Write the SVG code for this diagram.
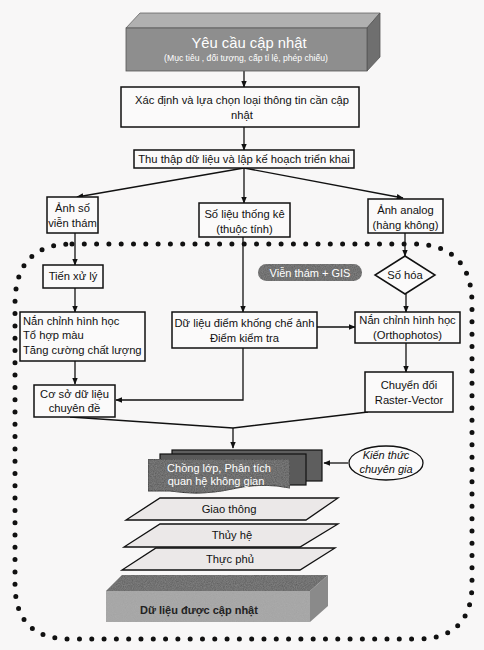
<svg xmlns="http://www.w3.org/2000/svg" width="484" height="650" viewBox="0 0 484 650">
<defs>
<marker id="ah" viewBox="0 0 10 10" refX="9" refY="5" markerWidth="7" markerHeight="7" orient="auto" markerUnits="userSpaceOnUse">
<path d="M0,1 L10,5 L0,9 Z" fill="#111"/>
</marker>
<filter id="grain" x="0" y="0" width="100%" height="100%">
<feTurbulence type="fractalNoise" baseFrequency="0.9" numOctaves="2" seed="3" result="n"/>
<feColorMatrix in="n" type="matrix" values="0 0 0 0 0.5  0 0 0 0 0.5  0 0 0 0 0.5  0 0 0 0.35 0" result="g"/>
<feComposite in="g" in2="SourceGraphic" operator="in" result="gi"/>
<feMerge><feMergeNode in="SourceGraphic"/><feMergeNode in="gi"/></feMerge>
</filter>
</defs>
<style>
text{font-family:"Liberation Sans",Arial,sans-serif;fill:#111;}
.t{font-size:11.2px;text-anchor:middle;}
.tl{font-size:11.2px;}
.box{fill:#fbfafa;stroke:#111;stroke-width:1.5;}
.ln{fill:none;stroke:#111;stroke-width:1.3;}
.arr{fill:none;stroke:#111;stroke-width:1.3;marker-end:url(#ah);}
.dots{fill:none;stroke:#111;stroke-width:5;stroke-linecap:round;stroke-dasharray:0 12.3;}
.para{fill:#ebe8e8;stroke:#111;stroke-width:1.3;}
</style>
<rect width="484" height="650" fill="#f8f7f7"/>

<g id="boundary">
<path class="dots" d="M72,244 H412 Q472,244 472,304 V584 Q472,639 417,639 H70 Q15,639 15,584 V304 Q15,244 72,244 Z"/>
</g>

<g id="connectors">
<path class="arr" d="M244,71 V87"/>
<path class="arr" d="M244,127 V150"/>
<path class="arr" d="M244,168 L77,197"/>
<path class="arr" d="M244,168 L403,198"/>
<path class="arr" d="M244,168 V203"/>
<path class="arr" d="M75,233 V265"/>
<path class="arr" d="M75,288 V312"/>
<path class="arr" d="M243,237 V312"/>
<path class="arr" d="M405,233 V256"/>
<path class="arr" d="M406,294 V312"/>
<path class="arr" d="M317,327 H355"/>
<path class="arr" d="M406,343 V372"/>
<path class="arr" d="M75,361 V384"/>
<path class="arr" d="M243,348 V400 H116"/>
<path class="ln" d="M70,417 L233,428 L368,412"/>
<path class="arr" d="M233,428 V448"/>
<path class="arr" d="M348,463 H324"/>
</g>

<g id="n-yeucau">
<path d="M126,28 L140,13 H380 L367,28 Z" fill="#b0b0b0" stroke="#666" stroke-width="0.8"/>
<path d="M367,28 L380,13 V57 L367,71 Z" fill="#6f6f6f" stroke="#555" stroke-width="0.8"/>
<rect x="126" y="28" width="241" height="43" fill="#8e8e8e" stroke="#555" stroke-width="0.8"/>
<text x="249" y="48" style="font-size:14.8px;text-anchor:middle;fill:#fff">Yêu cầu cập nhật</text>
<text x="246" y="61" style="font-size:8.6px;text-anchor:middle;fill:#fff">(Mục tiêu , đối tượng, cấp tỉ lệ, phép chiếu)</text>
</g>

<g id="n-xacdinh">
<rect class="box" x="121" y="87" width="238" height="40"/>
<text class="t" x="242" y="104">Xác định và lựa chọn loại thông tin cần cập</text>
<text class="t" x="242" y="119">nhật</text>
</g>

<g id="n-thuthap">
<rect class="box" x="134" y="150" width="220" height="18"/>
<text class="t" x="244" y="163">Thu thập dữ liệu và lập kế hoạch triển khai</text>
</g>

<g id="n-anhso">
<rect class="box" x="47" y="197" width="51" height="36"/>
<text class="t" x="72.5" y="212">Ảnh số</text>
<text class="t" x="72.5" y="227">viễn thám</text>
</g>

<g id="n-solieu">
<rect class="box" x="199" y="203" width="91" height="34"/>
<text class="t" x="244.5" y="218">Số liệu thống kê</text>
<text class="t" x="244.5" y="233">(thuộc tính)</text>
</g>

<g id="n-analog">
<rect class="box" x="368" y="199" width="75" height="34"/>
<text class="t" x="405.5" y="214">Ảnh analog</text>
<text class="t" x="405.5" y="229">(hàng không)</text>
</g>

<g id="n-gis">
<rect x="258" y="264" width="104" height="17" rx="8.5" fill="#5a5a5a" filter="url(#grain)"/>
<text x="310" y="276.5" style="font-size:11px;text-anchor:middle;fill:#fff">Viễn thám + GIS</text>
</g>

<g id="n-sohoa">
<path class="box" d="M405,256 L435,275 L405,294 L375,275 Z"/>
<text class="t" x="405" y="279">Số hóa</text>
</g>

<g id="n-tienxuly">
<rect class="box" x="43" y="265" width="60" height="23"/>
<text class="t" x="73" y="280">Tiến xử lý</text>
</g>

<g id="n-nanchinh1">
<rect class="box" x="20" y="312" width="125" height="49"/>
<text class="tl" x="23" y="325">Nắn chỉnh hình học</text>
<text class="tl" x="23" y="339">Tổ hợp màu</text>
<text class="tl" x="23" y="354">Tăng cường chất lượng</text>
</g>

<g id="n-diemkhongche">
<rect class="box" x="172" y="312" width="145" height="36"/>
<text class="t" x="244.5" y="327">Dữ liệu điểm khống chế ảnh</text>
<text class="t" x="244.5" y="342">Điểm kiểm tra</text>
</g>

<g id="n-nanchinh2">
<rect class="box" x="355" y="312" width="105" height="31"/>
<text class="t" x="407.5" y="324">Nắn chỉnh hình học</text>
<text class="t" x="407.5" y="339">(Orthophotos)</text>
</g>

<g id="n-chuyendoi">
<rect class="box" x="365" y="372" width="88" height="40"/>
<text class="t" x="409" y="389">Chuyển đổi</text>
<text class="t" x="409" y="404">Raster-Vector</text>
</g>

<g id="n-cosodulieu">
<rect class="box" x="34" y="385" width="81" height="32"/>
<text class="t" x="74.5" y="398">Cơ sở dữ liệu</text>
<text class="t" x="74.5" y="412">chuyên đề</text>
</g>

<g id="n-chonglop">
<rect x="172" y="450" width="150" height="31" fill="#5e5e5e" stroke="#111" stroke-width="1.2"/>
<rect x="160" y="454" width="146" height="31" fill="#5a5a5a" stroke="#111" stroke-width="1.2"/>
<path d="M148,459 H290 V488 Q262,482 232,489 T170,491 H148 Z" fill="#555" stroke="#111" stroke-width="1.2" filter="url(#grain)"/>
<text x="219" y="472" style="font-size:11px;text-anchor:middle;fill:#fff">Chồng lớp, Phân tích</text>
<text x="216" y="485" style="font-size:11px;text-anchor:middle;fill:#fff">quan hệ không gian</text>
</g>

<g id="n-kienthuc">
<ellipse cx="386" cy="463" rx="37" ry="17" fill="#fbfafa" stroke="#111" stroke-width="1.3"/>
<text x="386" y="459" style="font-size:11px;font-style:italic;text-anchor:middle">Kiến thức</text>
<text x="386" y="473" style="font-size:11px;font-style:italic;text-anchor:middle">chuyên gia</text>
</g>

<g id="n-giaothong">
<path class="para" d="M160,498 H338 L306,520 H126 Z"/>
<text class="t" x="229" y="513">Giao thông</text>
</g>

<g id="n-thuyhe">
<path class="para" d="M160,524 H338 L300,547 H124 Z"/>
<text class="t" x="232" y="539">Thủy hệ</text>
</g>

<g id="n-thucphu">
<path class="para" d="M156,548 H335 L300,570 H122 Z"/>
<text class="t" x="230" y="563">Thực phủ</text>
</g>

<g id="n-dulieucapnhat">
<path d="M106,591 L122,575 H328 L310,591 Z" fill="#5a5a5a" filter="url(#grain)"/>
<path d="M310,591 L328,575 V606 L310,622 Z" fill="#8a8a8a"/>
<rect x="106" y="591" width="204" height="31" fill="#a3a3a3" filter="url(#grain)"/>
<text x="140" y="614" style="font-size:11px;font-weight:bold;fill:#222">Dữ liệu được cập nhật</text>
</g>
</svg>
